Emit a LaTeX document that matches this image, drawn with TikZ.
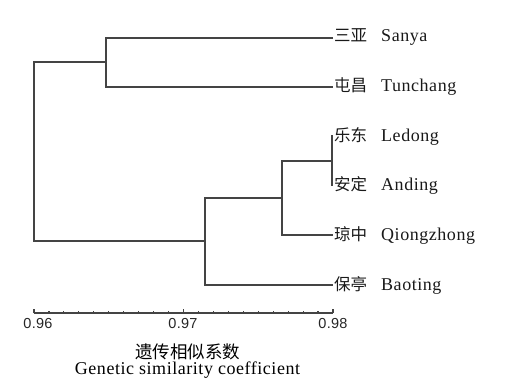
\documentclass[tikz,border=0pt]{standalone}
\usepackage{fontspec}
\usetikzlibrary{calc}
\setmainfont{Liberation Serif}
\newfontfamily\cjk{Noto Sans CJK SC}
\newfontfamily\axfont[LetterSpace=2]{Liberation Sans}
\newfontfamily\wideserif[LetterSpace=3]{Liberation Serif}
\definecolor{linegray}{HTML}{444444}
\tikzset{
  branch/.style={draw=linegray, line width=1.9pt},
  leaflabel/.style={anchor=west, inner sep=0pt, font=\wideserif\fontsize{18}{20}\selectfont, text=black!90},
  ticklabel/.style={anchor=north, inner sep=0pt, font=\axfont\fontsize{14.5}{16}\selectfont, text=black!85},
}
\newcommand{\leaftext}[2]{\makebox[47pt][l]{\cjk\fontsize{16.5}{18}\selectfont #1}#2}
\begin{document}
\begin{tikzpicture}[x=1pt,y=-1pt]
\useasboundingbox (0,0) rectangle (509,385);
% leaves
\coordinate (sanya) at (333,38);
\coordinate (tunchang) at (333,87);
\coordinate (ledong) at (333,136);
\coordinate (anding) at (333,185);
\coordinate (qiong) at (333,235);
\coordinate (baoting) at (333,285);
% internal nodes
\coordinate (n1) at (106,62);
\coordinate (n4) at (332,161);
\coordinate (n3) at (282,198);
\coordinate (n2) at (205,241);
\coordinate (n0) at (34,152);
% branches
\draw[branch] (sanya) -| (n1) |- (tunchang);
\draw[branch] (ledong) -| (n4) |- (anding);
\draw[branch] (n4) -| (n3) |- (qiong);
\draw[branch] (n3) -| (n2) |- (baoting);
\draw[branch] (n1) -| (n0) |- (n2);
% labels
\node[leaflabel] (lsanya) at (334,37) {\leaftext{三亚}{Sanya}};
\node[leaflabel] (ltunchang) at (334,87) {\leaftext{屯昌}{Tunchang}};
\node[leaflabel] (lledong) at (334,136) {\leaftext{乐东}{Ledong}};
\node[leaflabel] (landing) at (334,185) {\leaftext{安定}{Anding}};
\node[leaflabel] (lqiong) at (334,235) {\leaftext{琼中}{Qiongzhong}};
\node[leaflabel] (lbaoting) at (334,285) {\leaftext{保亭}{Baoting}};
% axis
\coordinate (ax0) at (34,313);
\coordinate (ax1) at (333,313);
\draw[branch, line width=1.5pt] (ax0) -- (ax1);
\foreach \i in {0,...,20} {
  \draw[draw=linegray, line width=1.2pt] ($(ax0)!\i/20!(ax1)$) -- ++(0,-2.5);
}
\foreach \i in {0,10,20} {
  \draw[draw=linegray, line width=1.3pt] ($(ax0)!\i/20!(ax1)$) -- ++(0,-4.5);
}
\node[ticklabel] (t96) at (38,318) {0.96};
\node[ticklabel] (t97) at (183,318) {0.97};
\node[ticklabel] (t98) at (333,318) {0.98};
\node[inner sep=0pt, font=\cjk\fontsize{17.5}{20}\selectfont] (titlecn) at (187.5,352) {遗传相似系数};
\node[inner sep=0pt, font=\wideserif\fontsize{18}{20}\selectfont] (titleen) at (187.5,370) {Genetic similarity coefficient};
\end{tikzpicture}
\end{document}
